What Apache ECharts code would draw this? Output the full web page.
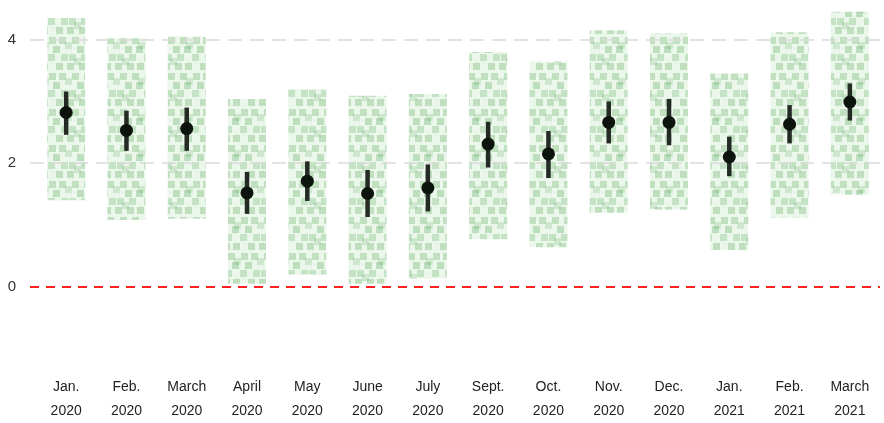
<!DOCTYPE html>
<html>
<head>
<meta charset="utf-8">
<script src="https://cdn.jsdelivr.net/npm/echarts@6/dist/echarts.min.js"></script>
<style>
html,body{margin:0;padding:0;background:#fff;}
#chart{width:884px;height:423px;}
</style>
</head>
<body>
<div id="chart"></div>
<script>
const categories = ['Jan.\n2020','Feb.\n2020','March\n2020','April\n2020','May\n2020','June\n2020','July\n2020','Sept.\n2020','Oct.\n2020','Nov.\n2020','Dec.\n2020','Jan.\n2021','Feb.\n2021','March\n2021'];
// vertical extent of each month's jittered raw-response cloud
const cloudMin = [1.40, 1.08, 1.10, 0.05, 0.20, 0.05, 0.13, 0.77, 0.64, 1.20, 1.25, 0.59, 1.12, 1.49];
const cloudMax = [4.35, 4.02, 4.05, 3.04, 3.20, 3.09, 3.12, 3.80, 3.65, 4.15, 4.10, 3.45, 4.12, 4.45];
// means and confidence intervals
const means  = [2.82, 2.53, 2.56, 1.52, 1.71, 1.51, 1.60, 2.31, 2.15, 2.66, 2.66, 2.10, 2.63, 2.99];
const ciLow  = [2.46, 2.20, 2.20, 1.18, 1.39, 1.13, 1.22, 1.93, 1.76, 2.32, 2.29, 1.79, 2.32, 2.69];
const ciHigh = [3.16, 2.85, 2.90, 1.86, 2.03, 1.89, 1.98, 2.67, 2.52, 3.00, 3.04, 2.43, 2.94, 3.29];
const yTicks = [0, 2, 4];

const idx = categories.map((_, i) => i);
const CLOUD_W = 38;

// texture tile imitating overlapping translucent square markers (pure styling)
function makeTexture() {
  const c = document.createElement('canvas');
  c.width = 48; c.height = 36;
  const ctx = c.getContext('2d');
  const rows = [
    {y: 1,  xs: [1, 11, 24, 36], a: 0.24},
    {y: 6,  xs: [17, 42],        a: 0.16},
    {y: 10, xs: [5, 29, 40],     a: 0.26},
    {y: 18, xs: [0, 13, 21, 33], a: 0.22},
    {y: 22, xs: [26],            a: 0.16},
    {y: 27, xs: [8, 19, 31, 41], a: 0.25}
  ];
  const s = 7;
  rows.forEach(r => {
    ctx.fillStyle = 'rgba(55,150,55,' + r.a + ')';
    r.xs.forEach(x => {
      for (const dx of [0, -48]) for (const dy of [0, -36]) ctx.fillRect(x + dx, r.y + dy, s, s);
    });
  });
  return c;
}
const texture = makeTexture();

const chart = echarts.init(document.getElementById('chart'), null, {renderer: 'canvas'});

const option = {
  animation: false,
  grid: {left: 30, right: 4, top: 2.5, bottom: 58},
  xAxis: {
    type: 'value', min: -0.6, max: 13.5,
    axisLine: {show: false}, axisTick: {show: false}, splitLine: {show: false},
    axisLabel: {
      customValues: idx,
      formatter: v => categories[Math.round(v)] || '',
      color: '#222', fontSize: 14, lineHeight: 24, margin: 14,
      fontFamily: 'Liberation Sans, Arial, sans-serif'
    }
  },
  yAxis: {
    type: 'value', min: -1.2, max: 4.6,
    axisLine: {show: false}, axisTick: {show: false}, splitLine: {show: false},
    axisLabel: {customValues: yTicks, color: '#333', fontSize: 15, margin: 14,
      fontFamily: 'Liberation Sans, Arial, sans-serif'}
  },
  series: [
    {
      // gridlines (behind the clouds)
      type: 'line', data: [], silent: true, z: 0,
      markLine: {
        silent: true, symbol: 'none', label: {show: false},
        data: [
          {yAxis: 2, lineStyle: {color: '#dadada', width: 1.5, type: [14, 8]}},
          {yAxis: 4, lineStyle: {color: '#dadada', width: 1.5, type: [14, 8]}}
        ]
      }
    },
    {
      // jittered response cloud of each month
      type: 'custom', silent: true, z: 1,
      data: idx.map(i => [i, cloudMin[i], cloudMax[i]]),
      renderItem: function (params, api) {
        const lo = api.coord([api.value(0), api.value(1)]);
        const hi = api.coord([api.value(0), api.value(2)]);
        const shape = {x: lo[0] - CLOUD_W / 2, y: hi[1], width: CLOUD_W, height: lo[1] - hi[1]};
        return {
          type: 'group',
          children: [
            {type: 'rect', shape: shape, style: {fill: 'rgba(110,190,110,0.13)'}},
            {type: 'rect', shape: shape, style: {fill: {image: texture, repeat: 'repeat'}}}
          ]
        };
      }
    },
    {
      // zero reference line
      type: 'line', data: [], silent: true, z: 3,
      markLine: {
        silent: true, symbol: 'none', label: {show: false},
        data: [{yAxis: 0, lineStyle: {color: '#ff2020', width: 2, type: [9, 7]}}]
      }
    },
    {
      type: 'custom', silent: true, z: 5,
      data: idx.map(i => [i, ciLow[i], ciHigh[i]]),
      renderItem: function (params, api) {
        const a = api.coord([api.value(0), api.value(1)]);
        const b = api.coord([api.value(0), api.value(2)]);
        return {
          type: 'line',
          shape: {x1: a[0], y1: a[1], x2: b[0], y2: b[1]},
          style: {stroke: '#242a24', lineWidth: 4.5}
        };
      }
    },
    {
      type: 'scatter', silent: true, z: 6,
      symbol: 'circle', symbolSize: 13,
      itemStyle: {color: '#0d140d', opacity: 1},
      data: idx.map(i => [i, means[i]])
    }
  ]
};
chart.setOption(option);
</script>
</body>
</html>
